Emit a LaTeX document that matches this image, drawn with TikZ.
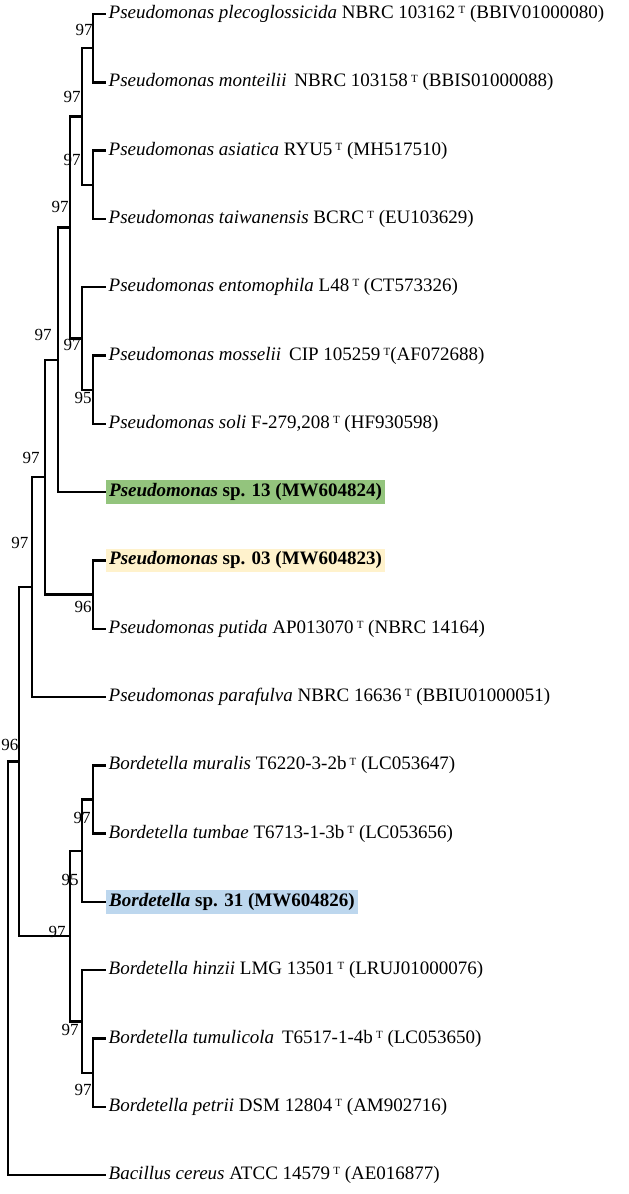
\documentclass[tikz,border=0pt]{standalone}
\usepackage{fontspec}
\setmainfont{Liberation Serif}
\definecolor{hlgreen}{RGB}{147,196,125}
\definecolor{hlyellow}{RGB}{255,242,204}
\definecolor{hlblue}{RGB}{189,215,238}
\tikzset{
  br/.style={line width=2.4pt, line cap=rect},
  leaf/.style={anchor=west, inner sep=1.5pt, font=\fontsize{19}{22}\selectfont},
  hleaf/.style={leaf, inner xsep=3pt, inner ysep=3pt, font=\fontsize{19}{22}\selectfont\bfseries},
  bs/.style={inner sep=0pt, font=\fontsize{17}{19}\selectfont},
}
\newcommand{\Ty}{\,\raisebox{0.55ex}{\fontsize{11}{11}\selectfont T}}
\begin{document}
\begin{tikzpicture}[x=1pt,y=-1pt]
\useasboundingbox (0,0) rectangle (629,1194);
\foreach \i/\yy in {0/14,1/82.3,2/150.6,3/218.9,4/287.2,5/355.5,6/423.8,7/492.1,8/560.4,9/628.7,10/697,11/765.3,12/833.6,13/901.9,14/970.2,15/1038.5,16/1106.8,17/1175.1}{\coordinate (e\i) at (105,\yy);}
\node[leaf] (t0) at (107,14) {\textit{Pseudomonas plecoglossicida} NBRC 103162\Ty{} (BBIV01000080)};
\node[leaf] (t1) at (107,82.3) {\textit{Pseudomonas monteilii}\, NBRC 103158\Ty{} (BBIS01000088)};
\node[leaf] (t2) at (107,150.6) {\textit{Pseudomonas asiatica} RYU5\Ty{} (MH517510)};
\node[leaf] (t3) at (107,218.9) {\textit{Pseudomonas taiwanensis} BCRC\Ty{} (EU103629)};
\node[leaf] (t4) at (107,287.2) {\textit{Pseudomonas entomophila} L48\Ty{} (CT573326)};
\node[leaf] (t5) at (107,355.5) {\textit{Pseudomonas mosselii}\, CIP 105259\Ty{}(AF072688)};
\node[leaf] (t6) at (107,423.8) {\textit{Pseudomonas soli} F-279,208\Ty{} (HF930598)};
\node[hleaf, fill=hlgreen] (t7) at (106,492.1) {\textit{Pseudomonas} sp. 13 (MW604824)};
\node[hleaf, fill=hlyellow] (t8) at (106,560.4) {\textit{Pseudomonas} sp. 03 (MW604823)};
\node[leaf] (t9) at (107,628.7) {\textit{Pseudomonas putida} AP013070\Ty{} (NBRC 14164)};
\node[leaf] (t10) at (107,697) {\textit{Pseudomonas parafulva} NBRC 16636\Ty{} (BBIU01000051)};
\node[leaf] (t11) at (107,765.3) {\textit{Bordetella muralis} T6220-3-2b\Ty{} (LC053647)};
\node[leaf] (t12) at (107,833.6) {\textit{Bordetella tumbae} T6713-1-3b\Ty{} (LC053656)};
\node[hleaf, fill=hlblue] (t13) at (106,901.9) {\textit{Bordetella} sp. 31 (MW604826)};
\node[leaf] (t14) at (107,970.2) {\textit{Bordetella hinzii} LMG 13501\Ty{} (LRUJ01000076)};
\node[leaf] (t15) at (107,1038.5) {\textit{Bordetella tumulicola}\, T6517-1-4b\Ty{} (LC053650)};
\node[leaf] (t16) at (107,1106.8) {\textit{Bordetella petrii} DSM 12804\Ty{} (AM902716)};
\node[leaf] (t17) at (107,1175.1) {\textit{Bacillus cereus} ATCC 14579\Ty{} (AE016877)};
\coordinate (n12) at (93,48.2);
\coordinate (n34) at (93,184.8);
\coordinate (n1234) at (82,116.5);
\coordinate (n67) at (93,389.7);
\coordinate (n567) at (82,338.4);
\coordinate (n17) at (70,227.4);
\coordinate (n18) at (58,359.8);
\coordinate (n910) at (93,594.6);
\coordinate (n110) at (45,477.2);
\coordinate (n111) at (32,587);
\coordinate (b12) at (93,799.5);
\coordinate (b123) at (82,850.7);
\coordinate (b56) at (93,1072.7);
\coordinate (b456) at (82,1021.5);
\coordinate (bB) at (70,936);
\coordinate (nPB) at (19,761.5);
\coordinate (root) at (8,968);
\foreach \p/\c in {n12/e0,n12/e1,n34/e2,n34/e3,n567/e4,n67/e5,n67/e6,n18/e7,n910/e8,n910/e9,
  n111/e10,b12/e11,b12/e12,b123/e13,b456/e14,b56/e15,b56/e16,root/e17,
  n1234/n12,n1234/n34,n567/n67,n17/n1234,n17/n567,n18/n17,n110/n18,
  n110/n910,n111/n110,nPB/n111,b123/b12,b456/b56,bB/b123,bB/b456,nPB/bB,root/nPB}{\draw[br] (\p) |- (\c);}
\node[bs] (s1) at (84,30) {97};
\node[bs] (s2) at (72,97) {97};
\node[bs] (s3) at (72,160) {97};
\node[bs] (s4) at (60,207) {97};
\node[bs] (s5) at (43,335) {97};
\node[bs] (s6) at (72,345) {97};
\node[bs] (s7) at (83,398) {95};
\node[bs] (s8) at (31,458) {97};
\node[bs] (s9) at (20,543) {97};
\node[bs] (s10) at (83,607) {96};
\node[bs] (s11) at (10,745) {96};
\node[bs] (s12) at (82,818) {97};
\node[bs] (s13) at (70,880) {95};
\node[bs] (s14) at (57,932) {97};
\node[bs] (s15) at (70,1030) {97};
\node[bs] (s16) at (83,1090) {97};
\end{tikzpicture}
\end{document}
